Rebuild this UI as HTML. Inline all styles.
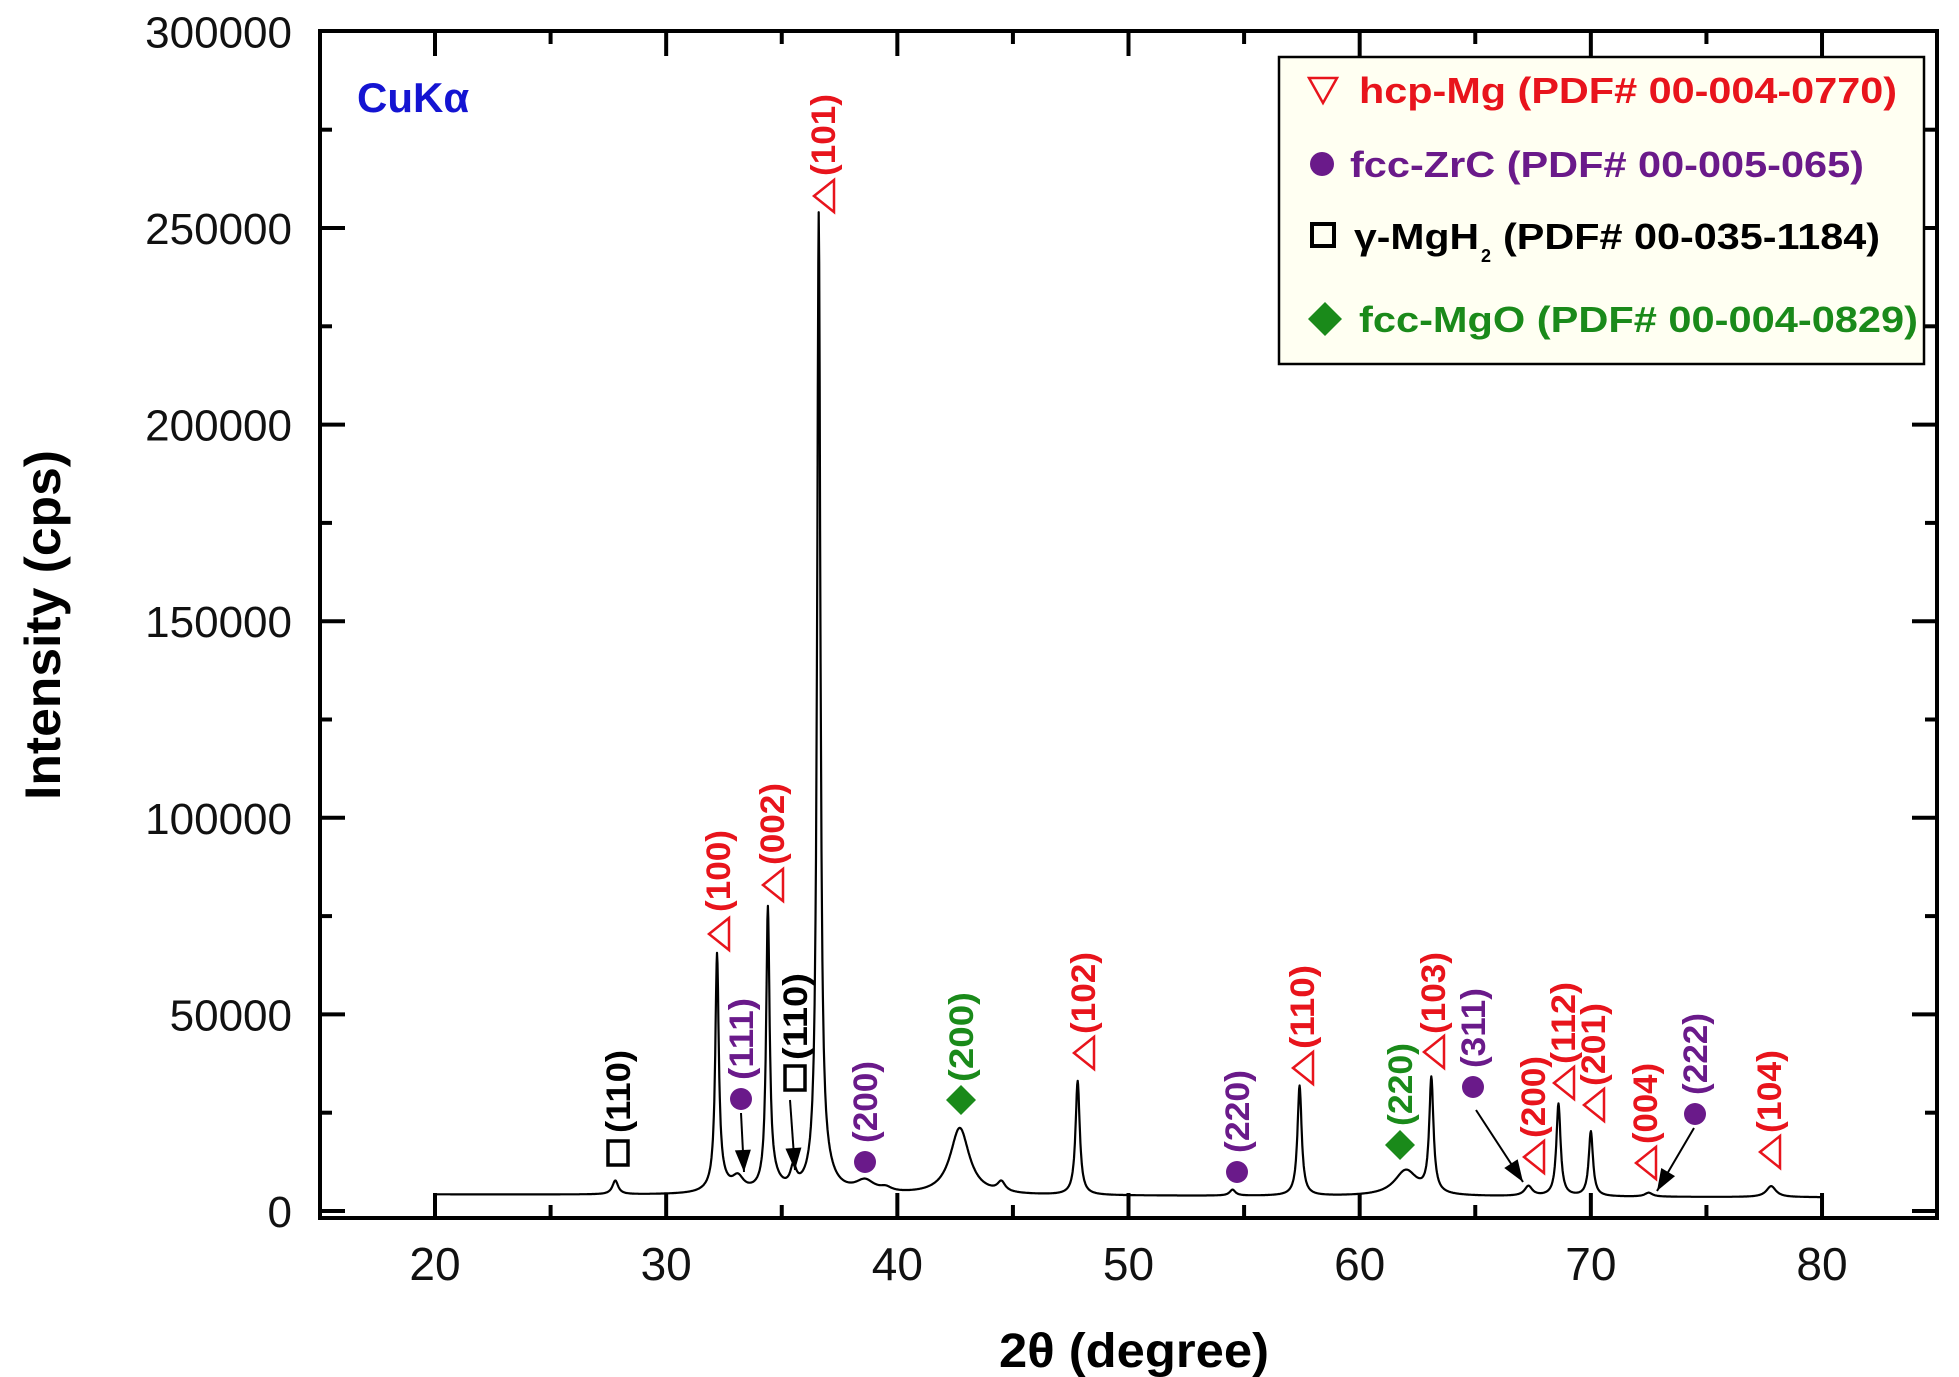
<!DOCTYPE html>
<html><head><meta charset="utf-8"><style>
html,body{margin:0;padding:0;background:#fff;}
svg{display:block;}
text{font-family:"Liberation Sans",Arial,sans-serif;}
</style></head><body>
<svg id="s" width="1959" height="1377" viewBox="0 0 1959 1377" xmlns="http://www.w3.org/2000/svg">
<rect width="1959" height="1377" fill="#fff"/>
<g id="ticks" stroke="#000" stroke-width="4"></g>
<path id="curve" fill="none" stroke="#000" stroke-width="2.2" stroke-linejoin="round"/>
<rect x="320" y="31" width="1617" height="1187" fill="none" stroke="#000" stroke-width="4"/>
<g id="ylab" font-size="44" text-anchor="end" fill="#111"></g>
<g id="xlab" font-size="46" text-anchor="middle" fill="#111"></g>
<text x="357" y="112" font-size="42" font-weight="bold" fill="#1414d2">CuKα</text>
<text transform="translate(60,625) rotate(-90)" font-size="50" font-weight="bold" text-anchor="middle" textLength="350" lengthAdjust="spacingAndGlyphs">Intensity (cps)</text>
<text x="1134" y="1367" font-size="48" font-weight="bold" text-anchor="middle" textLength="270" lengthAdjust="spacingAndGlyphs">2θ (degree)</text>
<!-- legend -->
<rect x="1279" y="57" width="645" height="307" fill="#fffff2" stroke="#000" stroke-width="2.5"/>
<polygon points="1309,78 1337,78 1323,103" fill="none" stroke="#e8141c" stroke-width="2.5"/>
<text x="1359" y="103" font-size="36" font-weight="bold" fill="#e8141c" textLength="538" lengthAdjust="spacingAndGlyphs">hcp-Mg (PDF# 00-004-0770)</text>
<circle cx="1322" cy="164" r="12" fill="#6a1a8a"/>
<text x="1350" y="177" font-size="36" font-weight="bold" fill="#6a1a8a" textLength="514" lengthAdjust="spacingAndGlyphs">fcc-ZrC (PDF# 00-005-065)</text>
<rect x="1312" y="224" width="22" height="22" fill="none" stroke="#000" stroke-width="4"/>
<text x="1354" y="249" font-size="36" font-weight="bold" fill="#000" textLength="125" lengthAdjust="spacingAndGlyphs">γ-MgH</text>
<text x="1481" y="262" font-size="18" font-weight="bold" fill="#000">2</text>
<text x="1503" y="249" font-size="36" font-weight="bold" fill="#000" textLength="377" lengthAdjust="spacingAndGlyphs">(PDF# 00-035-1184)</text>
<polygon points="1325,302 1342,319 1325,336 1308,319" fill="#1a8a1a"/>
<text x="1359" y="332" font-size="36" font-weight="bold" fill="#1a8a1a" textLength="559" lengthAdjust="spacingAndGlyphs">fcc-MgO (PDF# 00-004-0829)</text>
<g id="ann"></g>
</svg>
<script>
const X=q=>435+(q-20)*23.117, Y=v=>1211-v*0.003932;
const ns="http://www.w3.org/2000/svg";
function el(p,t,a,txt){const e=document.createElementNS(ns,t);for(const k in a)e.setAttribute(k,a[k]);if(txt!==undefined)e.textContent=txt;p.appendChild(e);return e;}
const tk=document.getElementById('ticks');
for(let q=15;q<=85;q+=5){const x=X(q);if(x<322||x>1935)continue;const L=(q%10==0)?25:13;
 el(tk,'line',{x1:x,y1:1218,x2:x,y2:1218-L});el(tk,'line',{x1:x,y1:31,x2:x,y2:31+L});}
for(let v=0;v<=300000;v+=25000){const y=Y(v);if(y<33)continue;const L=(v%50000==0)?25:12;
 el(tk,'line',{x1:320,y1:y,x2:320+L,y2:y});el(tk,'line',{x1:1937,y1:y,x2:1937-L,y2:y});}
const yl=document.getElementById('ylab');
for(let v=0;v<=300000;v+=50000)el(yl,'text',{x:292,y:Y(v)+16},String(v));
const xl=document.getElementById('xlab');
for(let q=20;q<=80;q+=10)el(xl,'text',{x:X(q),y:1280},String(q));
const P=[[27.8,3500,.15],[32.2,58000,.09],[32.3,3000,.4],[33.1,3500,.3],[34.4,70000,.09],[34.6,3000,.4],[35.5,5000,.15],[36.6,245000,.085],[36.8,5000,.5],[38.6,3000,.5],[39.5,1000,.3],[42.7,17000,.5],[44.5,2500,.2],[47.8,29000,.11],[54.5,1500,.15],[57.4,28000,.11],[62.0,6500,.6],[63.1,29000,.11],[67.3,2500,.2],[68.6,23500,.11],[70.0,16500,.11],[72.5,1000,.2],[77.8,2800,.25]];
let path="";
for(let i=0;i<=3000;i++){const t=20+i*0.02;let v=4200-(t-20)*12;for(const p of P){const z=(t-p[0])/p[2];v+=p[1]/(1+z*z);}
 path+=(i?"L":"M")+X(t).toFixed(1)+","+Y(v).toFixed(1);}
document.getElementById('curve').setAttribute('d',path);
const A=document.getElementById('ann');
const C={r:'#e8141c',p:'#6a1a8a',g:'#1a8a1a',k:'#000'};
const LB=[[618,1153,'s','k','(110)',1133,1050],[718,934,'t','r','(100)',912,830],[741,1099,'c','p','(111)',1080,998],
[772,885,'t','r','(002)',865,783],[795,1078,'s','k','(110)',1060,973],[823,196,'t','r','(101)',176,94],
[865,1162,'c','p','(200)',1143,1061],[961,1100,'d','g','(200)',1082,992],[1083,1053,'t','r','(102)',1034,952],
[1237,1172,'c','p','(220)',1153,1070],[1302,1068,'t','r','(110)',1049,965],[1400,1145,'d','g','(220)',1126,1043],
[1433,1052,'t','r','(103)',1034,952],[1473,1087,'c','p','(311)',1068,988],[1533,1157,'t','r','(200)',1138,1056],
[1563,1083,'t','r','(112)',1064,982],[1593,1105,'t','r','(201)',1086,1003],[1645,1163,'t','r','(004)',1144,1063],
[1695,1114,'c','p','(222)',1095,1013],[1769,1152,'t','r','(104)',1133,1050]];
for(const a of LB){const [x,my,ty,c,tx,tb,tt]=a;const col=C[c];
 if(ty=='t')el(A,'polygon',{points:`${x-9},${my} ${x+11},${my-16} ${x+11},${my+16}`,fill:'none',stroke:col,'stroke-width':2.5});
 if(ty=='c')el(A,'circle',{cx:x,cy:my,r:11,fill:col});
 if(ty=='s')el(A,'rect',{x:x-10,y:my-12,width:20,height:24,fill:'none',stroke:col,'stroke-width':3.5});
 if(ty=='d')el(A,'polygon',{points:`${x},${my-15} ${x+15},${my} ${x},${my+15} ${x-15},${my}`,fill:col});
 el(A,'text',{transform:`translate(${x+12},${tb}) rotate(-90)`,'font-size':34,'font-weight':'bold',fill:col,textLength:tb-tt,lengthAdjust:'spacingAndGlyphs'},tx);}
function arrow(x1,y1,x2,y2){el(A,'line',{x1,y1,x2,y2,stroke:'#000','stroke-width':2});
 const ang=Math.atan2(y2-y1,x2-x1),l=22,w=8;const bx=x2-l*Math.cos(ang),by=y2-l*Math.sin(ang);
 el(A,'polygon',{points:`${x2},${y2} ${bx+w*Math.sin(ang)},${by-w*Math.cos(ang)} ${bx-w*Math.sin(ang)},${by+w*Math.cos(ang)}`,fill:'#000'});}
arrow(741,1113,744,1172);arrow(790,1100,795,1170);arrow(1476,1110,1523,1182);arrow(1694,1128,1657,1191);
</script>
</body></html>
